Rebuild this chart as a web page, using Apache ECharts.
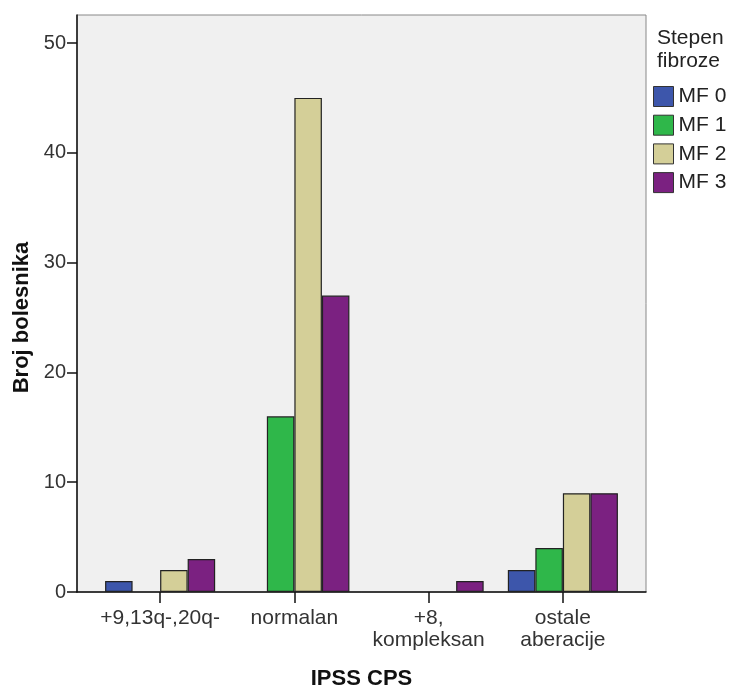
<!DOCTYPE html>
<html>
<head>
<meta charset="utf-8">
<script src="https://cdn.jsdelivr.net/npm/echarts@6/dist/echarts.min.js"></script>
<style>html,body{margin:0;padding:0;background:#fff;}#c{width:731px;height:689px;}</style>
</head>
<body>
<div id="c"></div>
<script>
var categories = ['+9,13q-,20q-', 'normalan', '+8,\nkompleksan', 'ostale\naberacije'];
var seriesNames = ['MF 0', 'MF 1', 'MF 2', 'MF 3'];
var mf0 = [1, 0, 0, 2];
var mf1 = [0, 16, 0, 4];
var mf2 = [2, 45, 0, 9];
var mf3 = [3, 27, 1, 9];
var yTicks = [0, 10, 20, 30, 40, 50];
var colors = ['#3d56ab', '#2fb74a', '#d4cf98', '#7b2181'];
var values = [mf0, mf1, mf2, mf3];

var font = 'Liberation Sans, Arial, sans-serif';
var chart = echarts.init(document.getElementById('c'), null, {renderer: 'canvas'});

var series = seriesNames.map(function (n, i) {
  return {
    name: n,
    type: 'bar',
    xAxisIndex: 1,
    yAxisIndex: 1,
    data: values[i].map(function (v) { return v === 0 ? null : v; }),
    barGap: '0%',
    barCategoryGap: '18%',
    itemStyle: {color: colors[i], borderColor: '#222', borderWidth: 1.2},
    emphasis: {disabled: true}
  };
});

chart.setOption({
  animation: false,
  backgroundColor: '#ffffff',
  title: {
    text: 'Stepen\nfibroze',
    left: 657, top: 27, padding: 0,
    textStyle: {fontFamily: font, fontSize: 21, fontWeight: 'normal', color: '#222', lineHeight: 23}
  },
  legend: {
    data: seriesNames,
    orient: 'vertical',
    left: 653, top: 86, padding: 0,
    itemWidth: 20, itemHeight: 20, itemGap: 7.7,
    icon: 'rect',
    itemStyle: {borderColor: '#333', borderWidth: 1},
    textStyle: {fontFamily: font, fontSize: 21, color: '#222', lineHeight: 20, padding: [0, 0, 0, 0]},
    selectedMode: false
  },
  grid: [
    {left: 77, right: 85, top: 15, bottom: 97, show: true, backgroundColor: '#f0f0f0', borderColor: '#888', borderWidth: 1, outerBoundsMode: 'none', containLabel: false},
    {left: 93, right: 101, top: 43, bottom: 97, outerBoundsMode: 'none', containLabel: false}
  ],
  xAxis: [
    {gridIndex: 0, type: 'value', min: 0, max: 1, axisLine: {show: true, onZero: false, lineStyle: {color: '#111', width: 1.5}}, axisTick: {show: false}, axisLabel: {show: false}, splitLine: {show: false}},
    {
      gridIndex: 1, type: 'category', data: categories,
      name: 'IPSS CPS', nameLocation: 'middle', nameGap: 76,
      nameTextStyle: {fontFamily: font, fontSize: 22, fontWeight: 'bold', color: '#111'},
      axisLine: {show: false},
      axisTick: {show: true, alignWithLabel: true, length: 11, lineStyle: {color: '#111', width: 1.5}},
      axisLabel: {interval: 0, fontFamily: font, fontSize: 21, color: '#333', margin: 15, lineHeight: 22}
    }
  ],
  yAxis: [
    {gridIndex: 0, type: 'value', min: 0, max: 1, axisLine: {show: true, onZero: false, lineStyle: {color: '#111', width: 1.5}}, axisTick: {show: false}, axisLabel: {show: false}, splitLine: {show: false}},
    {
      gridIndex: 1, type: 'value', min: 0, max: 50, interval: 10, offset: 16,
      name: 'Broj bolesnika', nameLocation: 'middle', nameGap: 43, nameRotate: 90,
      nameTextStyle: {fontFamily: font, fontSize: 22, fontWeight: 'bold', color: '#111'},
      axisLine: {show: false},
      axisTick: {show: true, length: 10, lineStyle: {color: '#111', width: 1.5}},
      axisLabel: {fontFamily: font, fontSize: 20, color: '#333', margin: 11,
        formatter: function (v) { return yTicks.indexOf(v) >= 0 ? String(v) : ''; }},
      splitLine: {show: false}
    }
  ],
  series: series
});
</script>
</body>
</html>
